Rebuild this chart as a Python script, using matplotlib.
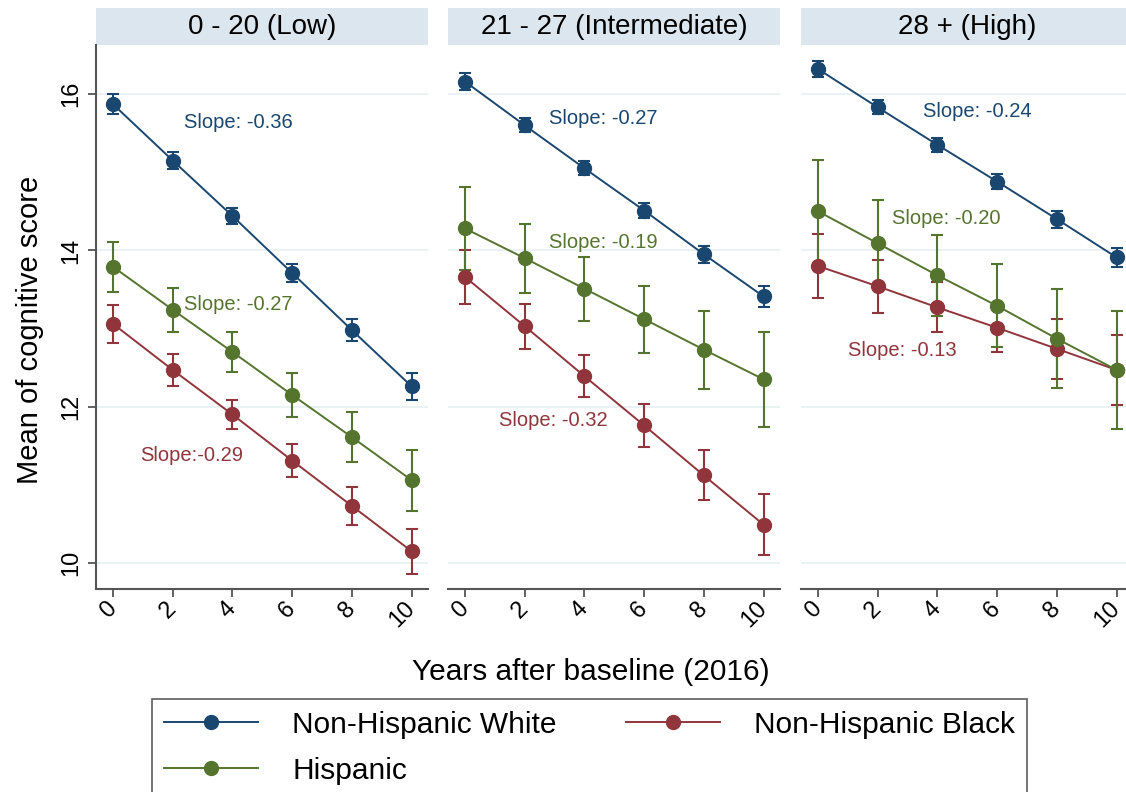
import matplotlib
matplotlib.use("Agg")
import matplotlib.pyplot as plt
from matplotlib.patches import Rectangle
from matplotlib.lines import Line2D

plt.rcParams["font.family"] = ["Liberation Sans", "DejaVu Sans"]

# --- data ---
years = [0, 2, 4, 6, 8, 10]
panel_titles = ["0 - 20 (Low)", "21 - 27 (Intermediate)", "28 + (High)"]

white_mean = [
    [15.87, 15.15, 14.44, 13.71, 12.98, 12.26],
    [16.16, 15.60, 15.05, 14.51, 13.95, 13.41],
    [16.32, 15.83, 15.35, 14.88, 14.40, 13.91],
]
white_ci = [
    [0.13, 0.11, 0.10, 0.12, 0.14, 0.17],
    [0.11, 0.09, 0.09, 0.09, 0.11, 0.13],
    [0.10, 0.09, 0.09, 0.10, 0.11, 0.12],
]
black_mean = [
    [13.06, 12.47, 11.90, 11.31, 10.73, 10.15],
    [13.66, 13.03, 12.39, 11.76, 11.12, 10.49],
    [13.80, 13.54, 13.27, 13.01, 12.74, 12.47],
]
black_ci = [
    [0.24, 0.21, 0.19, 0.21, 0.24, 0.29],
    [0.35, 0.29, 0.27, 0.28, 0.32, 0.39],
    [0.41, 0.34, 0.32, 0.31, 0.38, 0.45],
]
hisp_mean = [
    [13.79, 13.24, 12.70, 12.15, 11.61, 11.06],
    [14.28, 13.90, 13.51, 13.12, 12.73, 12.35],
    [14.50, 14.09, 13.68, 13.29, 12.87, 12.47],
]
hisp_ci = [
    [0.32, 0.28, 0.26, 0.28, 0.32, 0.39],
    [0.53, 0.44, 0.41, 0.43, 0.50, 0.61],
    [0.66, 0.56, 0.52, 0.53, 0.63, 0.75],
]

# slope annotations: (text, group, x, y) per panel
slope_labels = [
    [("Slope: -0.36", "white", 4.2, 15.64),
     ("Slope: -0.27", "hisp", 4.2, 13.31),
     ("Slope:-0.29", "black", 2.65, 11.37)],
    [("Slope: -0.27", "white", 4.63, 15.69),
     ("Slope: -0.19", "hisp", 4.63, 14.10),
     ("Slope: -0.32", "black", 2.95, 11.82)],
    [("Slope: -0.24", "white", 5.35, 15.78),
     ("Slope: -0.20", "hisp", 4.31, 14.41),
     ("Slope: -0.13", "black", 2.84, 12.72)],
]

colors = {"white": "#1a476f", "black": "#90353b", "hisp": "#55752f"}
W, H = 1126, 792

fig = plt.figure(figsize=(W / 100, H / 100), dpi=100)

left_px = [96, 448, 801]
width_px = 332
top_px, bottom_px = 45, 589
head_px = 37

for i, lp in enumerate(left_px):
    ax = fig.add_axes([lp / W, 1 - bottom_px / H, width_px / W, (bottom_px - top_px) / H])
    ax.set_xlim(-0.57, 10.55)
    ax.set_ylim(9.667, 16.628)
    for gy in [10, 12, 14, 16]:
        ax.axhline(gy, color="#e9f1f3", lw=1.3, zorder=0)

    series = [
        (white_mean[i], white_ci[i], "white"),
        (black_mean[i], black_ci[i], "black"),
        (hisp_mean[i], hisp_ci[i], "hisp"),
    ]
    for mean, ci, key in series:
        ax.errorbar(years, mean, yerr=ci, color=colors[key], marker="o", ms=10,
                    lw=1.4, elinewidth=1.5, capsize=4.5, capthick=1.5)

    for txt, key, tx, ty in slope_labels[i]:
        ax.text(tx, ty, txt, color=colors[key], fontsize=14.5, ha="center", va="center")

    # header strip
    hfrac = head_px / (bottom_px - top_px)
    ax.add_patch(Rectangle((0, 1.0), 1, hfrac, transform=ax.transAxes,
                           clip_on=False, facecolor="#dce6ee", edgecolor="none"))
    ax.text(0.5, 1 + hfrac / 2, panel_titles[i], transform=ax.transAxes,
            ha="center", va="center", fontsize=20)

    for s in ["top", "right"]:
        ax.spines[s].set_visible(False)
    ax.spines["bottom"].set_color("#555555")
    ax.spines["bottom"].set_linewidth(1.5)
    ax.set_xticks(years)
    ax.set_xticklabels([str(y) for y in years], rotation=45, ha="right",
                       va="center", rotation_mode="anchor", fontsize=17)
    ax.tick_params(axis="x", length=6, width=1.3, color="#555555", pad=6)
    if i == 0:
        ax.spines["left"].set_color("#555555")
        ax.spines["left"].set_linewidth(1.5)
        ax.set_yticks([10, 12, 14, 16])
        ax.set_yticklabels(["10", "12", "14", "16"], rotation=90, va="center", fontsize=17)
        ax.tick_params(axis="y", length=6, width=1.3, color="#555555", pad=4)
    else:
        ax.spines["left"].set_visible(False)
        ax.tick_params(axis="y", left=False, labelleft=False)

fig.text(30 / W, 1 - 330 / H, "Mean of cognitive score", rotation=90,
         ha="center", va="center", fontsize=21)
fig.text(591 / W, 1 - 672 / H, "Years after baseline (2016)",
         ha="center", va="center", fontsize=21.5)

handles = [
    Line2D([], [], color=colors["white"], marker="o", ms=10, lw=1.4),
    Line2D([], [], color=colors["hisp"], marker="o", ms=10, lw=1.4),
    Line2D([], [], color=colors["black"], marker="o", ms=10, lw=1.4),
]
labels = ["Non-Hispanic White", "Hispanic", "Non-Hispanic Black"]
leg = fig.legend(handles, labels, loc="upper left", bbox_to_anchor=(152 / W, 1 - 699 / H),
                 ncol=2, fontsize=21.5, frameon=True, fancybox=False,
                 handlelength=3.15, handletextpad=1.15, columnspacing=2.3,
                 labelspacing=0.6, borderpad=0.4, borderaxespad=0)
leg.get_frame().set_edgecolor("#333333")
leg.get_frame().set_linewidth(1.2)

fig.savefig("out.png", dpi=100)
